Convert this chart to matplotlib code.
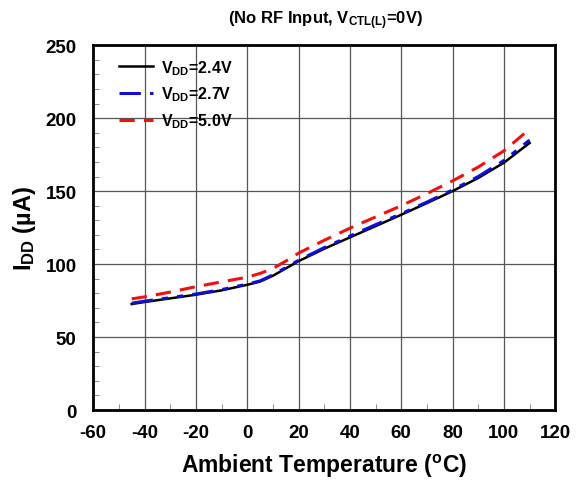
import matplotlib
matplotlib.use('Agg')
import matplotlib.pyplot as plt
from matplotlib.ticker import MultipleLocator

plt.rcParams['font.family'] = ['Liberation Sans', 'DejaVu Sans']
plt.rcParams['font.weight'] = 'bold'
plt.rcParams['axes.unicode_minus'] = False
plt.rcParams['mathtext.fontset'] = 'custom'
plt.rcParams['mathtext.rm'] = 'Liberation Sans:bold'
plt.rcParams['mathtext.bf'] = 'Liberation Sans:bold'
plt.rcParams['mathtext.it'] = 'Liberation Sans:bold'

# temperature points (degC)
temp = [-45, -40, -30, -20, -10, 0, 5, 10, 15, 20, 30, 40, 50, 60, 70, 80, 90, 100, 110]
# supply current (uA)
idd_24 = [72.6, 74, 76.5, 79, 82, 85.8, 88, 92, 97, 102, 110.5, 118.3, 126, 133.8, 141.8, 150, 159, 169.5, 183]
idd_27 = [73.2, 74.6, 77, 79.5, 82.5, 86.3, 88.5, 92.6, 97.6, 102.6, 111.3, 119.2, 127, 134.5, 142.5, 150.8, 160, 171, 185]
idd_50 = [76.2, 77.5, 80.8, 84.5, 87.8, 91, 93.6, 97, 102, 107.5, 116.3, 124.6, 132.3, 140, 148.3, 157, 166.5, 177.6, 192.5]
labels = [r'$\mathbf{V}_{\mathbf{DD}}$=2.4V', r'$\mathbf{V}_{\mathbf{DD}}$=2.7V', r'$\mathbf{V}_{\mathbf{DD}}$=5.0V']

fig = plt.figure(figsize=(5.79, 4.81), dpi=100)
ax = fig.add_axes([0.161, 0.1455, 0.798, 0.7585])

ax.plot(temp, idd_24, color='black', lw=1.8, label=labels[0])
ax.plot(temp, idd_27, color='#1010d0', lw=2.2, dashes=(7, 3, 2, 3, 2, 3), label=labels[1])
ax.plot(temp, idd_50, color='#ee1111', lw=2.2, dashes=(5, 3), label=labels[2])

ax.set_xlim(-60, 120)
ax.set_ylim(0, 250)
ax.xaxis.set_major_locator(MultipleLocator(20))
ax.yaxis.set_major_locator(MultipleLocator(50))
ax.xaxis.set_minor_locator(MultipleLocator(10))
ax.yaxis.set_minor_locator(MultipleLocator(10))
ax.grid(True, which='major', color='#555555', lw=0.9)
ax.tick_params(which='both', direction='in', labelsize=13.5)
ax.tick_params(axis='x', pad=10)
ax.tick_params(axis='y', pad=12)
ax.tick_params(which='major', length=0)
ax.tick_params(which='minor', length=4, color='#777777')
for lab in ax.get_xticklabels() + ax.get_yticklabels():
    lab.set_fontweight('bold')
for s in ax.spines.values():
    s.set_linewidth(2)

ax.set_xlabel(r'Ambient Temperature ($^{\mathbf{o}}$C)', fontsize=16.5, fontweight='bold', labelpad=8)
ax.set_ylabel(r'$\mathbf{I}_{\mathbf{DD}}$ (µA)', fontsize=17, fontweight='bold', labelpad=5)
fig.text(0.562, 0.957, r'(No RF Input, $\mathbf{V}_{\mathbf{CTL(L)}}$=0V)', ha='center', va='center',
         fontsize=12, fontweight='bold')

leg = ax.legend(loc='upper left', bbox_to_anchor=(0.056, 0.965), frameon=False, fontsize=11.5,
                handlelength=2.1, borderpad=0, borderaxespad=0, labelspacing=0.5,
                handletextpad=0.5)
for t in leg.get_texts():
    t.set_fontweight('bold')

fig.savefig('out.png', dpi=100)
